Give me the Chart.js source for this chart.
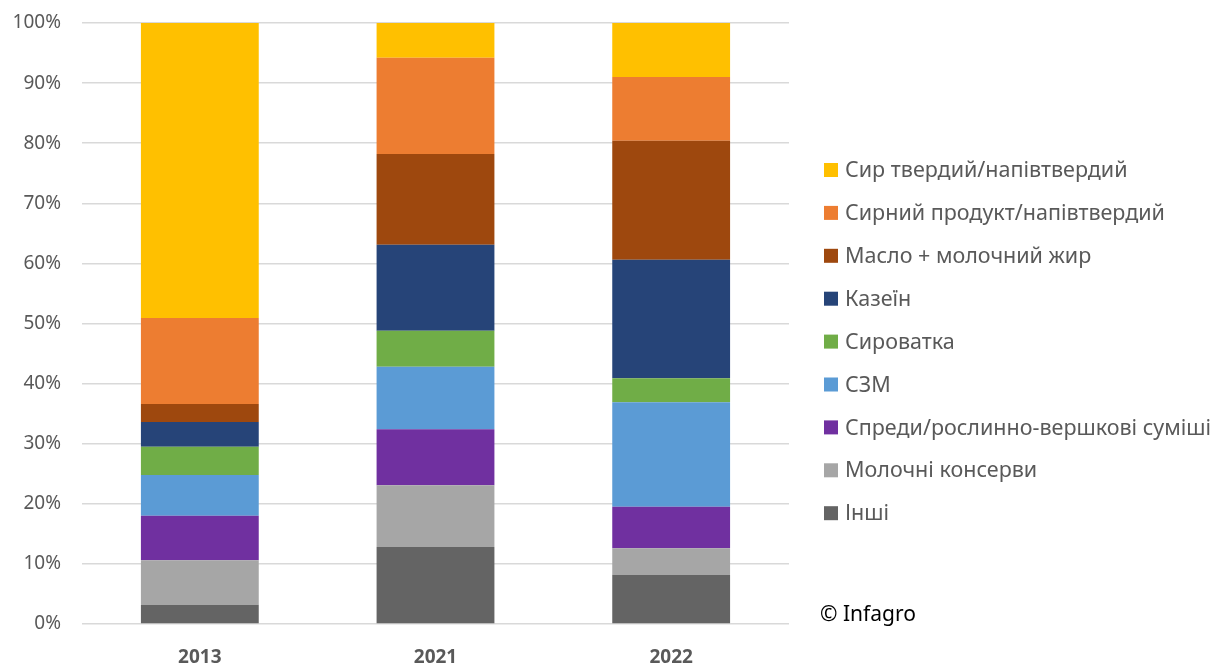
<!DOCTYPE html>
<html>
<head>
<meta charset="utf-8">
<script src="https://cdn.jsdelivr.net/npm/chart.js@4"></script>
<style>
  html, body { margin: 0; padding: 0; background: #fff; }
  #wrap { position: relative; width: 1217px; height: 666px; }
</style>
</head>
<body>
<div id="wrap"><canvas id="chart" width="1217" height="666"></canvas></div>
<script>
const years = ['2013', '2021', '2022'];

// bottom to top
const seriesNames = [
  'Інші',
  'Молочні консерви',
  'Спреди/рослинно-вершкові суміші',
  'СЗМ',
  'Сироватка',
  'Казеїн',
  'Масло + молочний жир',
  'Сирний продукт/напівтвердий',
  'Сир твердий/напівтвердий',
];
const seriesColors = ['#646464', '#a6a6a6', '#7030a0', '#5b9bd5', '#70ad47', '#264478', '#9e480e', '#ed7d31', '#ffc000'];

const inshi = [3.2, 12.8, 8.2];
const konservy = [7.4, 10.3, 4.4];
const spredy = [7.4, 9.3, 6.9];
const szm = [6.8, 10.4, 17.4];
const syrovatka = [4.7, 6.0, 4.0];
const kazein = [4.1, 14.3, 19.7];
const maslo = [3.0, 15.1, 19.8];
const syrnyi = [14.3, 16.0, 10.6];
const syrTverdyi = [49.1, 5.8, 9.0];

const seriesValues = [inshi, konservy, spredy, szm, syrovatka, kazein, maslo, syrnyi, syrTverdyi];

const FONT = "'Noto Sans', sans-serif";

const sideLegend = {
  id: 'sideLegend',
  afterDraw(chart) {
    const ctx = chart.ctx;
    ctx.save();
    ctx.font = `21.5px ${FONT}`;
    ctx.textBaseline = 'middle';
    ctx.textAlign = 'left';
    const items = chart.data.datasets.slice().reverse();
    items.forEach((ds, i) => {
      const y = 170 + i * 42.9;
      ctx.fillStyle = ds.backgroundColor;
      ctx.fillRect(824, y - 7, 14, 14);
      ctx.fillStyle = '#595959';
      ctx.fillText(ds.label, 845, y + 1);
    });
    ctx.fillStyle = '#000';
    ctx.font = `21px ${FONT}`;
    ctx.fillText('© Infagro', 820, 615);
    ctx.restore();
  },
};

new Chart(document.getElementById('chart'), {
  type: 'bar',
  data: {
    labels: years,
    datasets: seriesNames.map((name, i) => ({
      label: name,
      data: seriesValues[i],
      backgroundColor: seriesColors[i],
      borderWidth: 0,
      barPercentage: 0.5,
      categoryPercentage: 1,
    })),
  },
  options: {
    responsive: false,
    animation: false,
    layout: { padding: { left: 0, right: 428, top: 23, bottom: 0 } },
    plugins: { legend: { display: false }, tooltip: { enabled: false } },
    scales: {
      x: {
        stacked: true,
        grid: { display: false },
        border: { display: false },
        ticks: { color: '#595959', font: { family: FONT, size: 19, weight: 'bold' }, padding: 14 },
        afterFit: (scale) => { scale.height = 42; },
      },
      y: {
        stacked: true,
        min: 0,
        max: 100,
        ticks: {
          stepSize: 10,
          color: '#595959',
          font: { family: FONT, size: 19 },
          padding: 21,
          callback: (v) => v + '%',
        },
        grid: { color: '#d9d9d9', lineWidth: 1.5, drawTicks: false },
        border: { display: false },
        afterFit: (scale) => {
          scale.width = 82;
          scale.paddingTop = 0;
          scale.paddingBottom = 0;
        },
      },
    },
  },
  plugins: [sideLegend],
});
</script>
</body>
</html>
